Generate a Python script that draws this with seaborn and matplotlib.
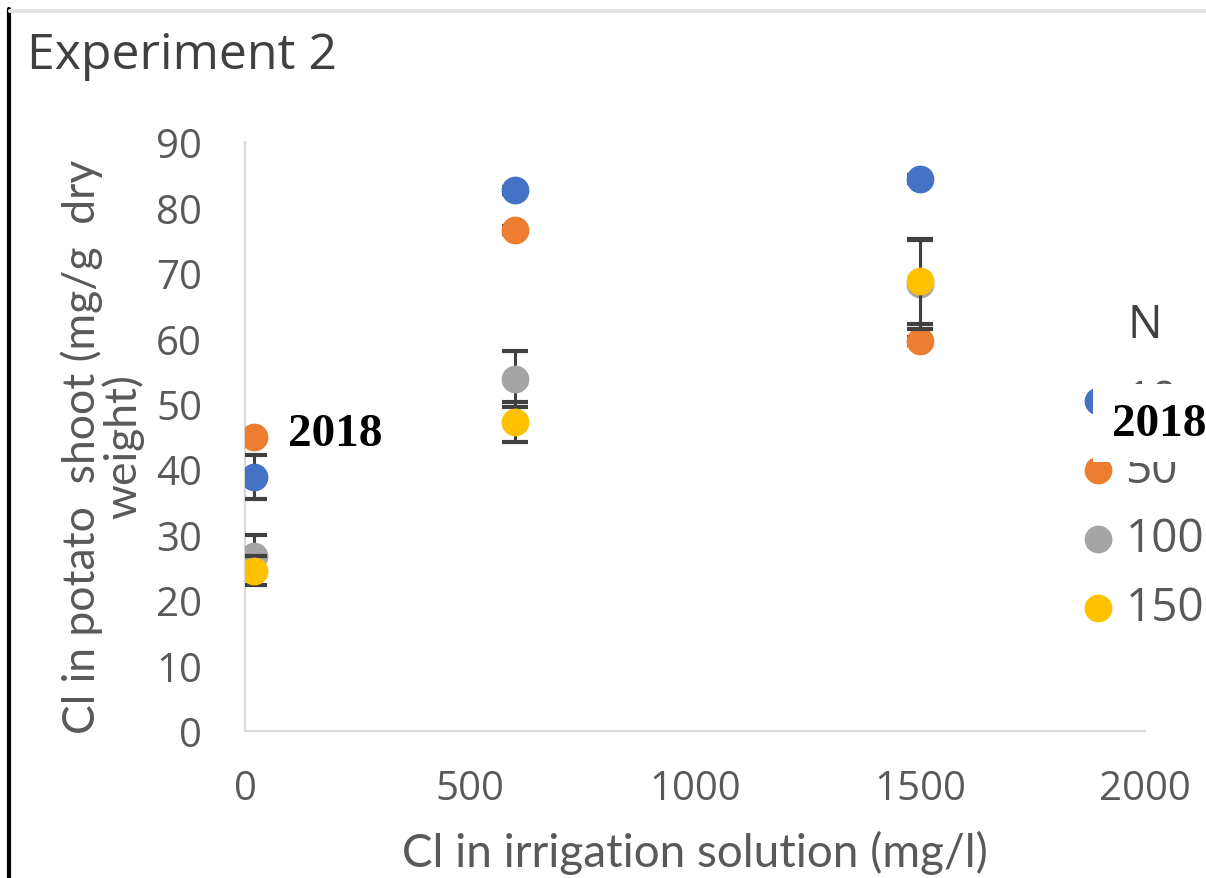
import matplotlib
matplotlib.use("Agg")
import matplotlib.pyplot as plt
from matplotlib.lines import Line2D
from matplotlib.patches import Rectangle
import seaborn as sns
import pandas as pd

# Cl added to the irrigation solution (mg/l)
cl_irrigation = [20, 600, 1500]

# Cl in potato shoot (mg/g dry weight) for each N level, with error bars
n_levels = ["10", "50", "100", "150"]
cl_n10 = [38.8, 82.6, 84.4]
err_n10 = [3.3, 0.6, 0.6]
cl_n50 = [44.9, 76.5, 59.6]
err_n50 = [0.6, 0.6, 0.6]
cl_n100 = [26.8, 53.8, 68.3]
err_n100 = [3.1, 4.3, 6.8]
cl_n150 = [24.5, 47.2, 68.7]
err_n150 = [2.2, 3.0, 6.5]

series_values = [cl_n10, cl_n50, cl_n100, cl_n150]
series_errors = [err_n10, err_n50, err_n100, err_n150]
colors = ["#4472C4", "#ED7D31", "#A5A5A5", "#FFC000"]

x_ticks = [0, 500, 1000, 1500, 2000]
y_ticks = [0, 10, 20, 30, 40, 50, 60, 70, 80, 90]

sns.set_style("white")
plt.rcParams["font.family"] = ["Open Sans", "DejaVu Sans"]

W, H = 1206, 879
fig = plt.figure(figsize=(W / 100, H / 100), dpi=100)
ax = fig.add_axes([245 / W, 1 - 732 / H, 900 / W, (732 - 143) / H])

text_grey = "#595959"
axis_grey = "#D9D9D9"

for i, (lvl, vals, errs, col) in enumerate(zip(n_levels, series_values, series_errors, colors)):
    df = pd.DataFrame({"cl_irr": cl_irrigation, "cl_shoot": vals})
    ax.errorbar(df["cl_irr"], df["cl_shoot"], yerr=errs, fmt="none",
                ecolor="#404040", elinewidth=2.2, capsize=9.5, capthick=3,
                zorder=3 + 2 * i)
    sns.scatterplot(data=df, x="cl_irr", y="cl_shoot", color=col, s=400,
                    edgecolor=col, linewidth=0, label=lvl, ax=ax,
                    zorder=4 + 2 * i)

ax.set_xlim(0, 2000)
ax.set_ylim(0, 90)
ax.set_xticks(x_ticks)
ax.set_yticks(y_ticks)
ax.set_xticklabels([str(t) for t in x_ticks])
ax.set_yticklabels([str(t) for t in y_ticks])
ax.set_xlabel("")
ax.set_ylabel("")

for side in ["top", "right"]:
    ax.spines[side].set_visible(False)
for side in ["left", "bottom"]:
    ax.spines[side].set_color(axis_grey)
    ax.spines[side].set_linewidth(1.6)

ax.tick_params(axis="both", which="major", direction="out", length=13,
               width=1.6, color=axis_grey, labelsize=29, labelcolor=text_grey)
ax.tick_params(axis="y", pad=18)
ax.tick_params(axis="x", pad=14)

# legend for the N levels, with its heading set separately above it
handles, labels = ax.get_legend_handles_labels()
ax.get_legend().remove()
fig.legend(handles, labels, loc="upper left",
           bbox_to_anchor=(1075 / W, 1 - 379 / H), frameon=False,
           fontsize=33, labelcolor=text_grey, borderpad=0,
           handletextpad=0.1, labelspacing=0.5, borderaxespad=0,
           markerscale=1.0, handlelength=1.0)
fig.text(1145 / W, 1 - 326 / H, "N", fontsize=33, color="#404040",
         ha="center", va="center")

# titles and axis labels
fig.text(27 / W, 1 - 56 / H, "Experiment 2", fontsize=36, color="#404040",
         ha="left", va="center")
fig.text(695 / W, 1 - 853 / H, "Cl in irrigation solution (mg/l)",
         fontsize=33, color=text_grey, ha="center", va="center", family="Lato")
fig.text(102 / W, 1 - 447 / H, "Cl in potato  shoot (mg/g  dry\nweight)",
         fontsize=32, color=text_grey, ha="center", va="center",
         rotation=90, multialignment="center", family="Lato", linespacing=0.95)

# year annotations; the right one sits on a white label box over the legend
fig.text(288 / W, 1 - 435 / H, "2018", fontsize=34, fontweight="bold",
         family="Liberation Serif", color="black", ha="left", va="center",
         zorder=10)
fig.add_artist(Rectangle((1093 / W, 1 - 463 / H), 113 / W, 78 / H,
                         facecolor="white", edgecolor="none",
                         transform=fig.transFigure, zorder=9))
fig.text(1112 / W, 1 - 425 / H, "2018", fontsize=34, fontweight="bold",
         family="Liberation Serif", color="black", ha="left", va="center",
         zorder=10)

# outer frame lines
fig.add_artist(Line2D([9 / W, 9 / W], [0, 1 - 10 / H], color="black",
                      linewidth=3, transform=fig.transFigure))
fig.add_artist(Line2D([10 / W, 1], [1 - 12 / H, 1 - 12 / H], color="#E3E3E3",
                      linewidth=3, transform=fig.transFigure))

fig.savefig("out.png", dpi=100)
